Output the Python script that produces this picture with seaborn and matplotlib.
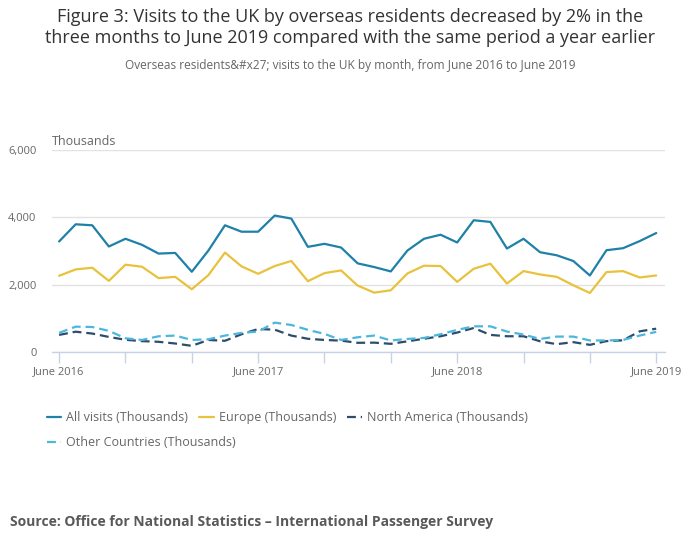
import numpy as np
import pandas as pd
import matplotlib
matplotlib.use("Agg")
import matplotlib.pyplot as plt
import seaborn as sns

sns.set_style("white")
plt.rcParams['font.family'] = ['Open Sans', 'DejaVu Sans']

# 数据：2016年6月 到 2019年6月，每月（千人）
months = pd.date_range("2016-06-01", "2019-06-01", freq="MS")

all_visits = [3280, 3790, 3760, 3130, 3360, 3180, 2920, 2940, 2380, 3010,
              3760, 3570, 3570, 4050, 3960, 3120, 3210, 3100, 2630, 2520,
              2390, 3010, 3360, 3480, 3250, 3910, 3860, 3070, 3360, 2960,
              2870, 2700, 2270, 3020, 3080, 3290, 3530]
europe = [2260, 2450, 2500, 2110, 2590, 2530, 2190, 2230, 1860, 2280,
          2950, 2540, 2320, 2550, 2700, 2100, 2340, 2420, 1970, 1760,
          1830, 2330, 2560, 2550, 2080, 2470, 2620, 2030, 2400, 2300,
          2230, 1980, 1750, 2370, 2400, 2210, 2270]
north_america = [505, 600, 545, 445, 360, 320, 300, 250, 180, 355,
                 330, 525, 680, 660, 485, 390, 355, 335, 270, 275,
                 240, 315, 390, 465, 575, 710, 505, 465, 465, 315,
                 230, 290, 210, 320, 345, 610, 690]
other_countries = [565, 750, 740, 625, 405, 355, 465, 485, 355, 375,
                   485, 565, 605, 870, 800, 655, 535, 355, 435, 485,
                   340, 385, 415, 525, 655, 760, 760, 605, 515, 385,
                   455, 455, 340, 340, 355, 485, 595]

labels = ["All visits (Thousands)", "Europe (Thousands)",
          "North America (Thousands)", "Other Countries (Thousands)"]
colors = ["#1f80a8", "#e8c23c", "#2d4d6c", "#4bb7dd"]
series = [all_visits, europe, north_america, other_countries]

idx = np.arange(len(months))

fig = plt.figure(figsize=(7, 5.49), dpi=100)
ax = fig.add_axes([0.074, 0.359, 0.876, 0.368])

for vals, lab, col in zip(series, labels, colors):
    df = pd.DataFrame({"m": idx, "v": vals})
    dashed = "America" in lab or "Other" in lab
    sns.lineplot(data=df, x="m", y="v", ax=ax, color=col, lw=1.6, label=lab,
                 linestyle=(0, (4, 2.2)) if dashed else "-")

ax.set_xlim(-0.44, 36.53)
ax.set_ylim(0, 6000)
ax.set_yticks([0, 2000, 4000, 6000])
ax.set_yticklabels(["0", "2,000", "4,000", "6,000"])
ax.yaxis.grid(True, color="#e2e2e2", lw=1)
ax.set_axisbelow(True)

ticks = np.arange(0, 37, 4)
ax.set_xticks(ticks)
ax.set_xticklabels([months[i].strftime("June %Y") if months[i].month == 6 else ""
                    for i in ticks])
ax.tick_params(axis="x", length=8, width=1, color="#c8d2e6", labelsize=8,
               labelcolor="#666666", pad=2, direction="out", bottom=True)
ax.tick_params(axis="y", length=0, labelsize=8, labelcolor="#666666", pad=11)
for s in ["top", "right", "left"]:
    ax.spines[s].set_visible(False)
ax.spines["bottom"].set_color("#c8d2e6")
ax.spines["bottom"].set_linewidth(1)
ax.set_xlabel("")
ax.set_ylabel("")

ax.text(0, 1.008, "Thousands", transform=ax.transAxes, fontsize=9,
        color="#666666", ha="left", va="bottom")

ax.legend_.remove()
handles, labs = ax.get_legend_handles_labels()
leg_kw = dict(loc="upper left", frameon=False, fontsize=9, labelcolor="#666666",
              handlelength=1.15, handletextpad=0.4, borderpad=0,
              borderaxespad=0)
fig.legend(handles[:3], labs[:3], bbox_to_anchor=(0.067, 0.251),
           ncol=3, columnspacing=0.9, **leg_kw)
fig.legend(handles[3:], labs[3:], bbox_to_anchor=(0.067, 0.206),
           ncol=1, **leg_kw)

fig.text(0.5, 0.950, "Figure 3: Visits to the UK by overseas residents decreased by 2% in the\n"
         "three months to June 2019 compared with the same period a year earlier",
         ha="center", va="center", fontsize=13, color="#333333", linespacing=1.15)
fig.text(0.5, 0.880, "Overseas residents&#x27; visits to the UK by month, from June 2016 to June 2019",
         ha="center", va="center", fontsize=8.6, color="#666666")
fig.text(0.014, 0.049, "Source: Office for National Statistics \u2013 International Passenger Survey",
         ha="left", va="center", fontsize=10, color="#595959", fontweight="bold")

fig.savefig("out.png", dpi=100)
